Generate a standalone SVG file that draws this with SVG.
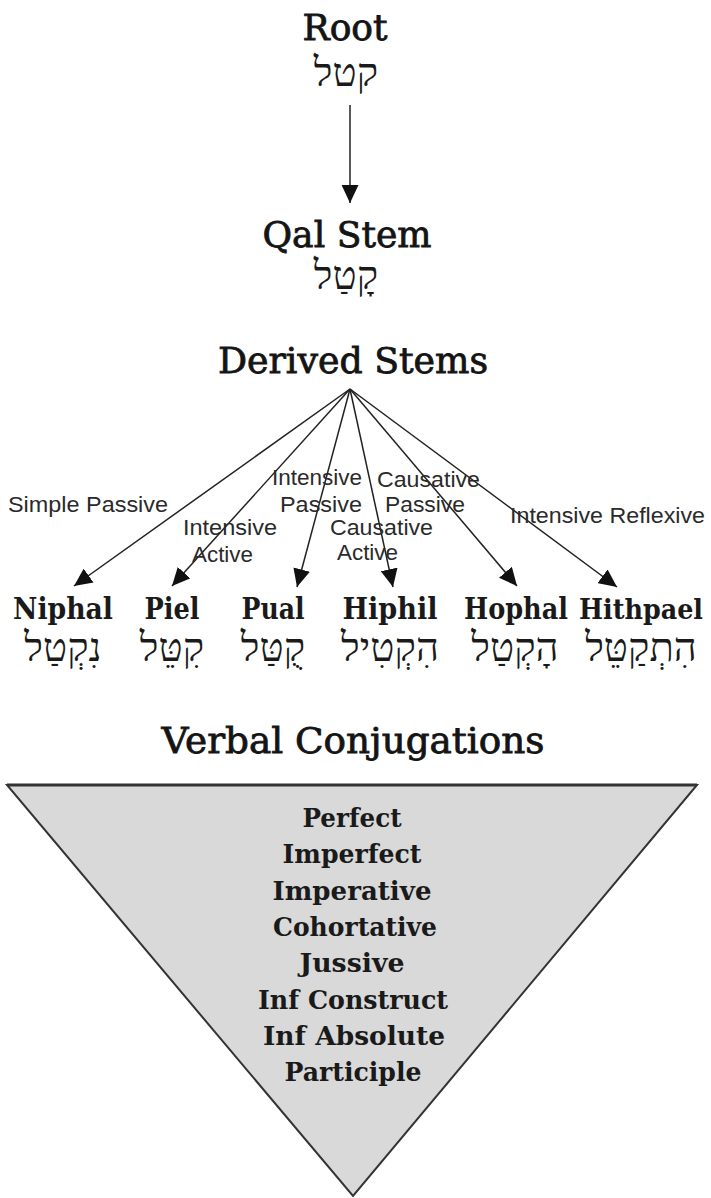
<svg xmlns="http://www.w3.org/2000/svg" width="711" height="1198" viewBox="0 0 711 1198">
<style>
.title{font-family:"DejaVu Serif","Liberation Serif",serif;font-size:35px;fill:#141414;stroke:#141414;stroke-width:0.8;text-anchor:middle}
.stem{font-family:"DejaVu Serif","Liberation Serif",serif;font-size:30px;font-weight:bold;fill:#1a1a1a;text-anchor:middle}
.heb{font-family:"Liberation Serif","DejaVu Sans",serif;font-size:40px;fill:#1a1a1a;text-anchor:middle}
.lbl{font-family:"Liberation Sans",Arial,sans-serif;font-size:22px;fill:#2a2a2a}
.item{font-family:"DejaVu Serif","Liberation Serif",serif;font-size:26px;font-weight:bold;fill:#1a1a1a;text-anchor:middle}
.conn{stroke:#222;stroke-width:1.5;fill:none;marker-end:url(#ah)}
</style>
<defs>
<marker id="ah" markerUnits="userSpaceOnUse" markerWidth="18" markerHeight="17" refX="18" refY="8.5" orient="auto">
<path d="M0,0 L18,8.5 L0,17 z" fill="#111"/>
</marker>
</defs>
<rect width="711" height="1198" fill="#fff"/>
<g id="connectors">
<line class="conn" x1="350" y1="105" x2="350" y2="203"/>
<line class="conn" x1="350" y1="389" x2="74" y2="586"/>
<line class="conn" x1="350" y1="389" x2="172" y2="586"/>
<line class="conn" x1="350" y1="389" x2="297" y2="587"/>
<line class="conn" x1="350" y1="389" x2="393" y2="587"/>
<line class="conn" x1="350" y1="389" x2="517" y2="586"/>
<line class="conn" x1="350" y1="389" x2="617" y2="587"/>
</g>
<g id="labels">
<text class="lbl" x="8" y="512" textLength="160" lengthAdjust="spacingAndGlyphs">Simple Passive</text>
<text class="lbl" x="183" y="535" textLength="94" lengthAdjust="spacingAndGlyphs">Intensive</text>
<text class="lbl" x="192" y="562" textLength="61" lengthAdjust="spacingAndGlyphs">Active</text>
<text class="lbl" x="272" y="485" textLength="90" lengthAdjust="spacingAndGlyphs">Intensive</text>
<text class="lbl" x="280" y="512" textLength="82" lengthAdjust="spacingAndGlyphs">Passive</text>
<text class="lbl" x="377" y="487" textLength="103" lengthAdjust="spacingAndGlyphs">Causative</text>
<text class="lbl" x="385" y="512" textLength="80" lengthAdjust="spacingAndGlyphs">Passive</text>
<text class="lbl" x="330" y="535" textLength="103" lengthAdjust="spacingAndGlyphs">Causative</text>
<text class="lbl" x="337" y="560" textLength="61" lengthAdjust="spacingAndGlyphs">Active</text>
<text class="lbl" x="510" y="523" textLength="195" lengthAdjust="spacingAndGlyphs">Intensive Reflexive</text>
</g>
<g id="root">
<text class="title" x="345" y="40" textLength="85" lengthAdjust="spacingAndGlyphs">Root</text>
<text class="heb" x="346" y="86">קטל</text>
</g>
<g id="qal">
<text class="title" x="347" y="247" textLength="169" lengthAdjust="spacingAndGlyphs">Qal Stem</text>
<text class="heb" x="346" y="289">קָטַל</text>
</g>
<g id="derived">
<text class="title" x="353" y="373" textLength="270" lengthAdjust="spacingAndGlyphs">Derived Stems</text>
</g>
<g id="niphal">
<text class="stem" x="63" y="619" textLength="100" lengthAdjust="spacingAndGlyphs">Niphal</text>
<text class="heb" x="63" y="661">נִקְטַל</text>
</g>
<g id="piel">
<text class="stem" x="172" y="619" textLength="55" lengthAdjust="spacingAndGlyphs">Piel</text>
<text class="heb" x="172" y="661">קִטֵּל</text>
</g>
<g id="pual">
<text class="stem" x="273" y="619" textLength="63" lengthAdjust="spacingAndGlyphs">Pual</text>
<text class="heb" x="273" y="661">קֻטַּל</text>
</g>
<g id="hiphil">
<text class="stem" x="390" y="619" textLength="95" lengthAdjust="spacingAndGlyphs">Hiphil</text>
<text class="heb" x="390" y="661">הִקְטִיל</text>
</g>
<g id="hophal">
<text class="stem" x="516" y="619" textLength="104" lengthAdjust="spacingAndGlyphs">Hophal</text>
<text class="heb" x="515" y="661">הָקְטַל</text>
</g>
<g id="hithpael">
<text class="stem" x="641" y="619" style="font-size:27px" textLength="124" lengthAdjust="spacingAndGlyphs">Hithpael</text>
<text class="heb" x="641" y="661">הִתְקַטֵּל</text>
</g>
<g id="verbal-conjugations">
<text class="title" x="353" y="753" textLength="383" lengthAdjust="spacingAndGlyphs">Verbal Conjugations</text>
<polygon points="7,785 697,785 353,1196" fill="#d9d9d9" stroke="#333" stroke-width="2"/>
<line x1="7" y1="785" x2="697" y2="785" stroke="#333" stroke-width="3"/>
<text class="item" x="352" y="827" textLength="99" lengthAdjust="spacingAndGlyphs">Perfect</text>
<text class="item" x="352" y="863" textLength="139" lengthAdjust="spacingAndGlyphs">Imperfect</text>
<text class="item" x="352" y="900" textLength="159" lengthAdjust="spacingAndGlyphs">Imperative</text>
<text class="item" x="355" y="936" textLength="164" lengthAdjust="spacingAndGlyphs">Cohortative</text>
<text class="item" x="352" y="972" textLength="105" lengthAdjust="spacingAndGlyphs">Jussive</text>
<text class="item" x="353" y="1009" textLength="190" lengthAdjust="spacingAndGlyphs">Inf Construct</text>
<text class="item" x="354" y="1045" textLength="182" lengthAdjust="spacingAndGlyphs">Inf Absolute</text>
<text class="item" x="353" y="1081" textLength="137" lengthAdjust="spacingAndGlyphs">Participle</text>
</g>
</svg>
